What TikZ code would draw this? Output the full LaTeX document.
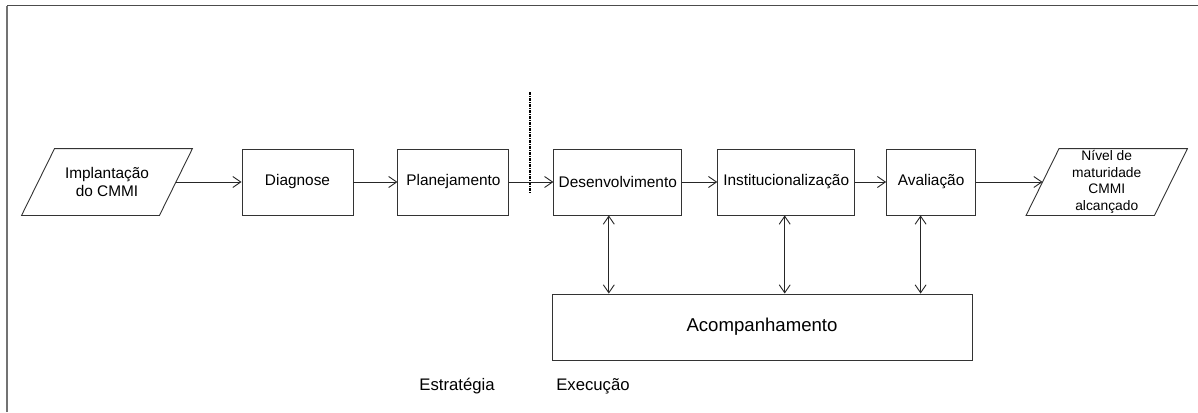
\documentclass[tikz,border=0pt]{standalone}
\usepackage{fontspec}
\setmainfont{Liberation Sans}
\usepackage{tikz}
\usetikzlibrary{arrows.meta,positioning}

\begin{document}
\begin{tikzpicture}
      [x=1pt, y=-1pt,
      line width=0.9pt,
      etapa/.style={draw=black!80, rectangle, align=center, inner sep=2pt,
                    minimum height=66pt, minimum width=#1,
                    font=\fontsize{15.4}{18}\selectfont},
      dado/.style={rectangle, align=center, inner sep=1pt, minimum height=66pt, minimum width=#1},
      contorno/.style={draw=black!80, line join=miter},
      fase/.style={font=\fontsize{16.7}{19}\selectfont},
      seta/.style={draw=black!85, -{Straight Barb[length=8pt,width=11pt]}},
      seta dupla/.style={draw=black!85, {Straight Barb[length=8pt,width=11pt]}-{Straight Barb[length=8pt,width=11pt]}}
      ]
    \useasboundingbox (0,0) rectangle (1198,412);

    % moldura
    \draw[black!55, line width=1.8pt] (7,412) -- (7,6);
    \draw[black!70, line width=1pt] (7,6) -- (1198,6);

    % fluxo principal
    \node[dado=137pt, font=\fontsize{15.4}{18}\selectfont] (impl) at (107,182) {Implanta\c{c}\~ao\\do CMMI};
    \node[etapa=111pt] (diag) at (297.5,182) {Diagnose};
    \node[etapa=111pt, right=44pt of diag] (plan) {Planejamento};
    \node[etapa=128pt, right=44pt of plan] (desen) {Desenvolvimento};
    \node[etapa=137pt, right=35pt of desen] (inst) {Institucionaliza\c{c}\~ao};
    \node[etapa=89pt, right=31pt of inst] (aval) {Avalia\c{c}\~ao};
    \node[dado=127.5pt, right=66.5pt of aval, font=\fontsize{13.8}{16.7}\selectfont] (nivel)
        {N\'ivel de\\maturidade\\CMMI\\alcan\c{c}ado};

    % paralelogramos de entrada e saida
    \foreach \n in {impl,nivel}
      \draw[contorno] ([xshift=-16.5pt]\n.south west) -- ([xshift=16.5pt]\n.north west)
        -- ([xshift=16.5pt]\n.north east) -- ([xshift=-16.5pt]\n.south east) -- cycle;

    % acompanhamento
    \node[etapa=420pt, font=\fontsize{18.6}{21}\selectfont] (acomp) at (762,327) {Acompanhamento};

    % divisao estrategia / execucao
    \coordinate (div topo) at (530,92);
    \coordinate (div base) at (530,193);
    \draw[black, line width=1.2pt, dash pattern=on 3pt off 1pt on 1pt off 1pt] (div topo) -- (div base);
    \node[fase] (estr) at (457,386) {Estrat\'egia};
    \node[fase] (exec) at (593,386) {Execu\c{c}\~ao};

    % conexoes
    \draw[seta] (impl.east) -- (diag.west);
    \draw[seta] (diag) -- (plan);
    \draw[seta] (plan) -- (desen);
    \draw[seta] (desen) -- (inst);
    \draw[seta] (inst) -- (aval);
    \draw[seta] (aval.east) -- (nivel.west);

    \draw[seta dupla] ([xshift=-9pt]desen.south) -- ([xshift=-9pt]desen.south |- acomp.north);
    \draw[seta dupla] ([xshift=-1.5pt]inst.south) -- ([xshift=-1.5pt]inst.south |- acomp.north);
    \draw[seta dupla] ([xshift=-10.5pt]aval.south) -- ([xshift=-10.5pt]aval.south |- acomp.north);
\end{tikzpicture}
\end{document}
